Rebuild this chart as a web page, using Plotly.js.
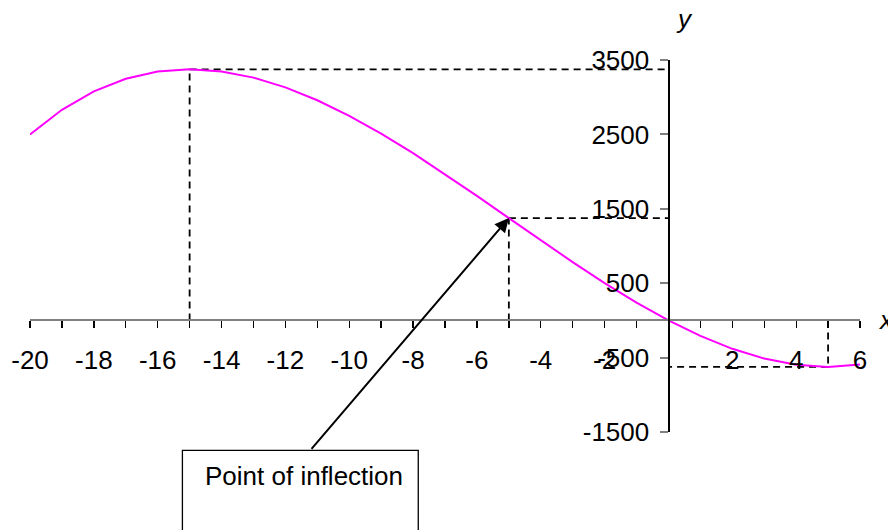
<!DOCTYPE html>
<html>
<head>
<meta charset="utf-8">
<script src="https://cdn.plot.ly/plotly-3.0.1.min.js"></script>
<style>html,body{margin:0;padding:0;background:#fff;}#chart{width:888px;height:530px;}</style>
</head>
<body>
<div id="chart"></div>
<script>
// Curve values
const xValues = [-20,-19,-18,-17,-16,-15,-14,-13,-12,-11,-10,-9,-8,-7,-6,-5,-4,-3,-2,-1,0,1,2,3,4,5,6];
const yValues = [2500,2831,3078,3247,3344,3375,3346,3263,3132,2959,2750,2511,2248,1967,1674,1375,1076,783,502,239,0,-209,-382,-513,-596,-625,-594];

// Marked points (maximum, inflection, minimum)
const markX = [-15, -5, 5];
const markY = [3375, 1375, -625];

// Tick labels
const xTickVals = [-20,-19,-18,-17,-16,-15,-14,-13,-12,-11,-10,-9,-8,-7,-6,-5,-4,-3,-2,-1,0,1,2,3,4,5,6];
const xTickText = ['-20','','-18','','-16','','-14','','-12','','-10','','-8','','-6','','-4','','-2','','','','2','','4','','6'];
const yTickVals = [-1500,-500,500,1500,2500,3500];
const yTickText = ['-1500','-500','500','1500','2500','3500'];

const annText = 'Point of inflection';

const dashStyle = {color:'#000', width:1.8, dash:'7px,5px'};
const traces = [];
markX.forEach((mx, i) => {
  const my = markY[i];
  traces.push({x:[mx, mx], y:[0, my], mode:'lines', line:dashStyle, hoverinfo:'skip', showlegend:false, cliponaxis:false});
  traces.push({x:[mx, 0], y:[my, my], mode:'lines', line:dashStyle, hoverinfo:'skip', showlegend:false, cliponaxis:false});
});
traces.push({x:xValues, y:yValues, mode:'lines', line:{color:'#FF00FF', width:2}, showlegend:false, cliponaxis:false});

const L = 29.5, R = 860, T = 59.6, B = 431.6;
const W = R - L, H = B - T;
const px2x = p => (p - L) / W;
const py2y = p => (B - p) / H;

const font = {family:'Liberation Sans, Arial, sans-serif', size:26, color:'#000'};

const layout = {
  width:888, height:530,
  margin:{l:L, r:888-R, t:T, b:530-B, pad:0},
  paper_bgcolor:'#fff', plot_bgcolor:'#fff',
  font: font,
  showlegend:false,
  xaxis:{
    range:[-20,6], showgrid:false, zeroline:false,
    anchor:'free', position:1500/5000,
    showline:true, linecolor:'#808080', linewidth:2,
    tickmode:'array', tickvals:xTickVals, ticktext:xTickText,
    ticks:'outside', ticklen:7, tickwidth:1.3, tickcolor:'#000',
    ticklabelstandoff:9,
    tickfont:font
  },
  yaxis:{
    range:[-1500,3500], showgrid:false, zeroline:false,
    anchor:'free', position:20/26,
    showline:true, linecolor:'#000', linewidth:1.3,
    tickmode:'array', tickvals:yTickVals, ticktext:yTickText,
    ticks:'outside', ticklen:8, tickwidth:2, tickcolor:'#808080',
    ticklabelstandoff:6,
    tickfont:font
  },
  shapes:[
    {type:'rect', xref:'paper', yref:'paper', x0:px2x(182), x1:px2x(418), y0:py2y(560), y1:py2y(450),
     line:{color:'#000', width:1.3}, fillcolor:'rgba(0,0,0,0)', layer:'above'}
  ],
  annotations:[
    {x:markX[1], y:markY[1], xref:'x', yref:'y', text:'', showarrow:true,
     ax:310-508.6, ay:450-217.7, axref:'pixel', ayref:'pixel',
     arrowhead:2, arrowsize:1.4, arrowwidth:2, arrowcolor:'#000', standoff:0},
    {xref:'paper', yref:'paper', x:px2x(304), y:py2y(476), text:annText, showarrow:false,
     font:{family:font.family, size:26, color:'#000'}, xanchor:'center', yanchor:'middle'},
    {xref:'paper', yref:'paper', x:px2x(684), y:py2y(19), text:'<i>y</i>', showarrow:false,
     font:{family:font.family, size:26, color:'#000'}, xanchor:'center', yanchor:'middle'},
    {xref:'paper', yref:'paper', x:px2x(876), y:py2y(320), text:'<i>x</i>', showarrow:false,
     font:{family:font.family, size:26, color:'#000'}, xanchor:'left', yanchor:'middle'}
  ]
};

Plotly.newPlot('chart', traces, layout, {staticPlot:true, displayModeBar:false});
</script>
</body>
</html>
